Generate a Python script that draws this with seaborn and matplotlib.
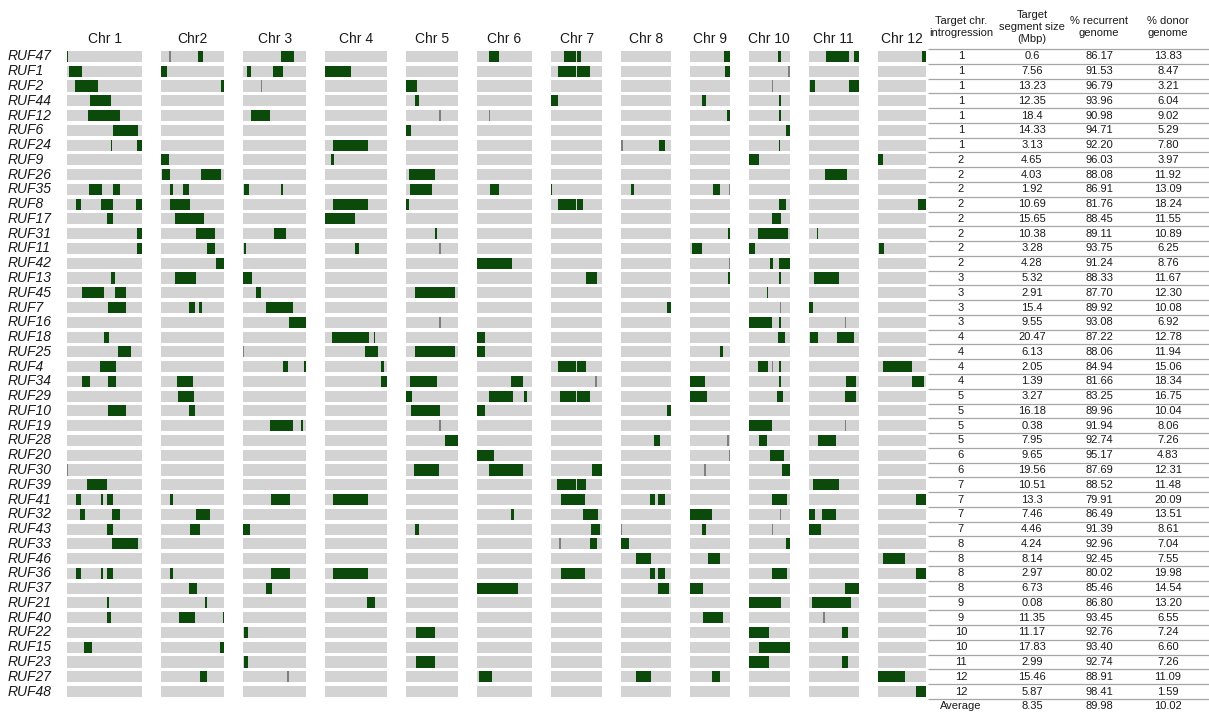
import matplotlib
matplotlib.use("Agg")
import matplotlib.pyplot as plt
import matplotlib.transforms as mtransforms
import pandas as pd
import seaborn as sns

# ---------------------------------------------------------------- data
SAMPLES = ["RUF47", "RUF1", "RUF2", "RUF44", "RUF12", "RUF6", "RUF24", "RUF9",
           "RUF26", "RUF35", "RUF8", "RUF17", "RUF31", "RUF11", "RUF42", "RUF13",
           "RUF45", "RUF7", "RUF16", "RUF18", "RUF25", "RUF4", "RUF34", "RUF29",
           "RUF10", "RUF19", "RUF28", "RUF20", "RUF30", "RUF39", "RUF41", "RUF32",
           "RUF43", "RUF33", "RUF46", "RUF36", "RUF37", "RUF21", "RUF40", "RUF22",
           "RUF15", "RUF23", "RUF27", "RUF48"]

CHR_NAMES = ["Chr 1", "Chr2", "Chr 3", "Chr 4", "Chr 5", "Chr 6", "Chr 7",
             "Chr 8", "Chr 9", "Chr 10", "Chr 11", "Chr 12"]
CHR_LEN = [43.27, 35.94, 36.41, 35.50, 29.96, 31.25, 29.70, 28.44, 23.01,
           23.21, 29.02, 27.53]  # Mbp

# donor segments per chromosome: (line, start Mbp, end Mbp, kind)
# kind "d" = donor introgression, "m" = small unresolved marker
CHR1 = [("RUF47", 0.0, 0.6, "d"), ("RUF1", 1.0, 8.56, "d"), ("RUF2", 4.8, 18.0, "d"),
        ("RUF44", 13.0, 25.4, "d"), ("RUF12", 12.0, 30.4, "d"), ("RUF6", 26.3, 40.6, "d"),
        ("RUF24", 25.0, 25.8, "d"), ("RUF24", 40.1, 43.27, "d"),
        ("RUF35", 12.4, 20.0, "d"), ("RUF35", 26.3, 30.7, "d"),
        ("RUF8", 5.3, 7.8, "d"), ("RUF8", 19.6, 26.3, "d"), ("RUF8", 39.8, 43.27, "d"),
        ("RUF17", 22.7, 26.3, "d"), ("RUF31", 40.4, 43.27, "d"), ("RUF11", 40.4, 43.27, "d"),
        ("RUF13", 25.5, 27.8, "d"), ("RUF45", 8.8, 21.0, "d"), ("RUF45", 27.4, 33.7, "d"),
        ("RUF7", 23.4, 33.7, "d"), ("RUF18", 21.5, 24.2, "d"), ("RUF25", 29.1, 36.6, "d"),
        ("RUF4", 19.0, 28.2, "d"), ("RUF34", 8.4, 13.1, "d"), ("RUF34", 23.8, 28.4, "d"),
        ("RUF10", 23.4, 33.9, "d"), ("RUF30", 0.0, 0.4, "m"), ("RUF39", 11.4, 23.2, "d"),
        ("RUF41", 5.3, 7.8, "d"), ("RUF41", 19.6, 20.8, "d"), ("RUF41", 23.0, 26.3, "d"),
        ("RUF32", 7.6, 10.1, "d"), ("RUF32", 25.7, 30.5, "d"), ("RUF43", 22.7, 26.3, "d"),
        ("RUF33", 26.1, 40.8, "d"),
        ("RUF36", 5.3, 7.8, "d"), ("RUF36", 19.6, 20.8, "d"), ("RUF36", 23.0, 26.3, "d"),
        ("RUF21", 22.9, 24.0, "d"), ("RUF40", 22.7, 25.1, "d"), ("RUF15", 9.9, 14.1, "d")]

CHR2 = [("RUF47", 4.6, 5.3, "m"), ("RUF47", 21.0, 24.0, "d"), ("RUF1", 0.0, 3.3, "d"),
        ("RUF2", 34.0, 35.94, "d"), ("RUF9", 0.0, 4.4, "d"),
        ("RUF26", 0.6, 5.0, "d"), ("RUF26", 22.5, 34.0, "d"),
        ("RUF35", 4.7, 6.6, "d"), ("RUF35", 12.3, 15.8, "d"), ("RUF8", 5.2, 16.2, "d"),
        ("RUF17", 7.9, 24.6, "d"), ("RUF31", 20.0, 30.8, "d"), ("RUF11", 26.3, 31.0, "d"),
        ("RUF42", 31.66, 35.94, "d"), ("RUF13", 7.9, 19.8, "d"),
        ("RUF7", 16.0, 19.6, "d"), ("RUF7", 21.9, 23.6, "d"),
        ("RUF34", 8.8, 18.3, "d"), ("RUF29", 9.6, 18.7, "d"), ("RUF10", 15.8, 19.6, "d"),
        ("RUF41", 5.0, 6.5, "d"), ("RUF32", 19.8, 27.9, "d"), ("RUF43", 16.2, 22.1, "d"),
        ("RUF36", 5.0, 6.5, "d"), ("RUF37", 15.8, 20.2, "d"), ("RUF21", 24.8, 26.2, "d"),
        ("RUF40", 10.4, 19.2, "d"), ("RUF40", 35.3, 35.94, "d"),
        ("RUF15", 33.8, 35.94, "d"), ("RUF27", 22.3, 26.3, "d")]

CHR3 = [("RUF47", 22.0, 29.3, "d"), ("RUF1", 2.3, 4.8, "d"), ("RUF1", 17.2, 23.2, "d"),
        ("RUF2", 10.2, 10.8, "m"), ("RUF12", 4.8, 15.5, "d"),
        ("RUF35", 0.8, 3.6, "d"), ("RUF35", 21.8, 22.8, "d"), ("RUF31", 18.0, 24.7, "d"),
        ("RUF11", 0.8, 1.8, "d"), ("RUF13", 0.0, 5.2, "d"), ("RUF45", 7.5, 10.5, "d"),
        ("RUF7", 13.2, 28.9, "d"), ("RUF16", 26.2, 36.41, "d"), ("RUF25", 0.0, 0.5, "m"),
        ("RUF4", 22.8, 25.9, "d"), ("RUF4", 34.8, 36.2, "d"),
        ("RUF19", 15.3, 28.7, "d"), ("RUF19", 33.4, 34.6, "d"), ("RUF41", 16.3, 27.0, "d"),
        ("RUF43", 0.0, 4.0, "d"), ("RUF36", 16.3, 26.8, "d"), ("RUF37", 13.4, 16.9, "d"),
        ("RUF22", 0.6, 2.9, "d"), ("RUF23", 0.6, 2.9, "d"), ("RUF27", 25.4, 26.3, "m")]

CHR4 = [("RUF1", 0.0, 14.6, "d"), ("RUF24", 4.5, 24.4, "d"), ("RUF9", 3.3, 5.1, "d"),
        ("RUF8", 4.5, 24.4, "d"), ("RUF17", 0.0, 17.2, "d"), ("RUF11", 17.3, 19.1, "d"),
        ("RUF18", 3.7, 24.8, "d"), ("RUF18", 27.9, 28.8, "d"), ("RUF25", 22.8, 30.2, "d"),
        ("RUF4", 32.0, 33.9, "d"), ("RUF34", 32.2, 35.5, "d"), ("RUF41", 4.5, 24.4, "d"),
        ("RUF36", 4.5, 24.4, "d"), ("RUF21", 24.2, 28.7, "d")]

CHR5 = [("RUF2", 0.0, 6.0, "d"), ("RUF44", 4.8, 7.2, "d"), ("RUF12", 19.1, 19.8, "m"),
        ("RUF6", 0.0, 2.7, "d"), ("RUF26", 1.9, 16.6, "d"), ("RUF35", 2.1, 14.9, "d"),
        ("RUF8", 0.0, 1.4, "d"), ("RUF31", 16.4, 17.5, "d"), ("RUF11", 19.1, 19.8, "m"),
        ("RUF45", 4.8, 28.2, "d"), ("RUF16", 19.1, 19.8, "m"), ("RUF25", 4.8, 28.2, "d"),
        ("RUF34", 2.1, 17.8, "d"), ("RUF29", 0.0, 3.3, "d"), ("RUF10", 2.9, 19.5, "d"),
        ("RUF19", 19.1, 19.9, "m"), ("RUF28", 22.2, 29.96, "d"), ("RUF30", 4.4, 18.8, "d"),
        ("RUF43", 4.8, 7.2, "d"), ("RUF22", 5.8, 16.6, "d"), ("RUF23", 5.8, 16.6, "d")]

CHR6 = [("RUF47", 6.6, 12.3, "d"), ("RUF12", 6.6, 7.3, "m"), ("RUF35", 7.4, 12.3, "d"),
        ("RUF42", 0.0, 19.9, "d"), ("RUF18", 0.0, 4.2, "d"), ("RUF25", 0.0, 4.2, "d"),
        ("RUF34", 19.5, 26.1, "d"), ("RUF29", 6.6, 20.6, "d"), ("RUF29", 26.9, 28.3, "d"),
        ("RUF10", 0.0, 4.4, "d"), ("RUF20", 0.0, 9.65, "d"), ("RUF30", 6.6, 26.2, "d"),
        ("RUF32", 19.3, 21.0, "d"), ("RUF37", 0.0, 23.3, "d"), ("RUF27", 0.8, 8.5, "d")]

CHR7 = [("RUF47", 7.6, 14.6, "d"), ("RUF47", 15.0, 17.3, "d"),
        ("RUF1", 4.3, 14.6, "d"), ("RUF1", 15.0, 22.7, "d"), ("RUF44", 0.0, 4.1, "d"),
        ("RUF35", 0.0, 0.6, "d"), ("RUF8", 3.9, 14.6, "d"), ("RUF8", 15.0, 18.6, "d"),
        ("RUF13", 20.2, 26.6, "d"), ("RUF4", 4.1, 14.6, "d"), ("RUF4", 15.0, 20.0, "d"),
        ("RUF34", 25.6, 26.6, "m"), ("RUF29", 5.2, 14.6, "d"), ("RUF29", 15.0, 22.7, "d"),
        ("RUF30", 23.9, 29.70, "d"), ("RUF39", 3.3, 14.6, "d"), ("RUF39", 15.0, 20.2, "d"),
        ("RUF41", 5.8, 19.4, "d"), ("RUF32", 18.6, 27.0, "d"), ("RUF43", 22.9, 28.3, "d"),
        ("RUF33", 4.7, 6.0, "m"), ("RUF33", 22.5, 26.4, "d"), ("RUF36", 5.8, 19.4, "d")]

CHR8 = [("RUF24", 0.0, 0.6, "m"), ("RUF24", 21.6, 24.9, "d"), ("RUF35", 5.5, 7.2, "d"),
        ("RUF7", 26.0, 28.44, "d"), ("RUF10", 26.0, 28.44, "d"), ("RUF28", 18.8, 22.4, "d"),
        ("RUF41", 16.5, 19.5, "d"), ("RUF41", 21.1, 24.7, "d"), ("RUF43", 0.0, 0.5, "m"),
        ("RUF33", 0.0, 4.24, "d"), ("RUF46", 8.5, 16.7, "d"),
        ("RUF36", 16.5, 19.5, "d"), ("RUF36", 21.1, 24.7, "d"),
        ("RUF37", 20.7, 27.5, "d"), ("RUF27", 8.5, 16.7, "d")]

CHR9 = [("RUF47", 19.5, 23.01, "d"), ("RUF1", 19.9, 23.01, "d"), ("RUF44", 6.6, 9.2, "d"),
        ("RUF12", 21.4, 23.01, "d"), ("RUF35", 13.3, 17.0, "d"), ("RUF35", 22.3, 23.01, "m"),
        ("RUF31", 21.6, 23.01, "d"), ("RUF11", 1.4, 6.6, "d"), ("RUF42", 22.4, 23.01, "m"),
        ("RUF13", 21.6, 23.01, "d"), ("RUF25", 17.0, 18.7, "d"), ("RUF34", 0.0, 8.6, "d"),
        ("RUF29", 0.0, 9.7, "d"), ("RUF28", 21.2, 22.2, "m"), ("RUF20", 22.3, 23.01, "m"),
        ("RUF30", 8.2, 9.4, "m"), ("RUF32", 0.0, 12.7, "d"), ("RUF43", 6.6, 9.2, "d"),
        ("RUF46", 10.1, 17.2, "d"), ("RUF37", 0.0, 7.4, "d"), ("RUF40", 7.4, 18.75, "d"),
        ("RUF27", 12.5, 17.2, "d")]

CHR10 = [("RUF47", 16.8, 18.2, "d"), ("RUF1", 22.4, 23.21, "m"), ("RUF2", 13.2, 13.6, "m"),
         ("RUF44", 17.0, 18.4, "d"), ("RUF12", 17.0, 18.4, "d"), ("RUF6", 21.3, 23.21, "d"),
         ("RUF24", 16.9, 17.7, "d"), ("RUF9", 0.0, 5.6, "d"), ("RUF8", 17.0, 21.3, "d"),
         ("RUF17", 13.2, 18.4, "d"), ("RUF31", 5.2, 22.2, "d"), ("RUF11", 0.0, 3.5, "d"),
         ("RUF42", 11.8, 13.6, "d"), ("RUF42", 17.2, 23.21, "d"), ("RUF13", 16.9, 18.3, "d"),
         ("RUF45", 10.1, 11.0, "d"), ("RUF7", 17.6, 18.3, "m"),
         ("RUF16", 0.0, 13.2, "d"), ("RUF16", 17.0, 18.3, "d"), ("RUF18", 16.4, 20.7, "d"),
         ("RUF4", 5.2, 11.0, "d"), ("RUF4", 13.2, 13.6, "m"), ("RUF4", 17.0, 18.2, "d"),
         ("RUF34", 16.9, 18.3, "d"), ("RUF29", 16.2, 19.5, "d"), ("RUF19", 0.0, 13.2, "d"),
         ("RUF28", 5.8, 10.4, "d"), ("RUF20", 12.0, 19.9, "d"), ("RUF30", 19.0, 23.21, "d"),
         ("RUF41", 13.0, 21.5, "d"), ("RUF32", 17.6, 18.3, "m"), ("RUF43", 13.2, 13.7, "m"),
         ("RUF33", 21.3, 23.21, "d"), ("RUF36", 13.0, 21.5, "d"), ("RUF21", 0.0, 18.6, "d"),
         ("RUF22", 0.0, 11.17, "d"), ("RUF15", 5.4, 23.21, "d"), ("RUF23", 0.0, 11.2, "d")]

CHR11 = [("RUF47", 9.9, 23.3, "d"), ("RUF47", 26.1, 29.02, "d"),
         ("RUF2", 1.0, 3.8, "d"), ("RUF2", 23.3, 29.02, "d"), ("RUF26", 9.2, 22.3, "d"),
         ("RUF31", 4.8, 5.4, "d"), ("RUF13", 3.2, 17.7, "d"), ("RUF7", 0.0, 2.5, "d"),
         ("RUF16", 21.0, 21.8, "m"), ("RUF18", 0.8, 5.3, "d"), ("RUF18", 16.4, 26.1, "d"),
         ("RUF34", 21.4, 27.1, "d"), ("RUF29", 21.0, 27.5, "d"), ("RUF19", 20.8, 21.8, "m"),
         ("RUF28", 5.3, 15.6, "d"), ("RUF39", 2.7, 17.7, "d"),
         ("RUF32", 0.4, 4.0, "d"), ("RUF32", 7.6, 15.8, "d"), ("RUF43", 0.0, 7.3, "d"),
         ("RUF37", 20.8, 29.02, "d"), ("RUF21", 1.9, 24.4, "d"), ("RUF40", 8.4, 9.4, "m"),
         ("RUF22", 19.5, 22.5, "d"), ("RUF23", 19.5, 22.5, "d")]

CHR12 = [("RUF47", 25.4, 27.53, "d"), ("RUF9", 0.0, 2.7, "d"), ("RUF8", 23.1, 27.53, "d"),
         ("RUF11", 0.8, 3.4, "d"), ("RUF4", 2.7, 19.4, "d"), ("RUF34", 19.4, 26.2, "d"),
         ("RUF41", 21.8, 27.53, "d"), ("RUF46", 2.7, 15.7, "d"), ("RUF36", 21.8, 27.53, "d"),
         ("RUF27", 0.0, 15.46, "d"), ("RUF48", 21.66, 27.53, "d")]

SEGMENTS = [CHR1, CHR2, CHR3, CHR4, CHR5, CHR6, CHR7, CHR8, CHR9, CHR10, CHR11, CHR12]

# summary table
TARGET_CHR = [1, 1, 1, 1, 1, 1, 1, 2, 2, 2, 2, 2, 2, 2, 2, 3, 3, 3, 3, 4, 4, 4,
              4, 5, 5, 5, 5, 6, 6, 7, 7, 7, 7, 8, 8, 8, 8, 9, 9, 10, 10, 11, 12, 12]
SEGMENT_SIZE = [0.6, 7.56, 13.23, 12.35, 18.4, 14.33, 3.13, 4.65, 4.03, 1.92, 10.69,
                15.65, 10.38, 3.28, 4.28, 5.32, 2.91, 15.4, 9.55, 20.47, 6.13, 2.05,
                1.39, 3.27, 16.18, 0.38, 7.95, 9.65, 19.56, 10.51, 13.3, 7.46, 4.46,
                4.24, 8.14, 2.97, 6.73, 0.08, 11.35, 11.17, 17.83, 2.99, 15.46, 5.87]
PCT_RECURRENT = [86.17, 91.53, 96.79, 93.96, 90.98, 94.71, 92.20, 96.03, 88.08, 86.91,
                 81.76, 88.45, 89.11, 93.75, 91.24, 88.33, 87.70, 89.92, 93.08, 87.22,
                 88.06, 84.94, 81.66, 83.25, 89.96, 91.94, 92.74, 95.17, 87.69, 88.52,
                 79.91, 86.49, 91.39, 92.96, 92.45, 80.02, 85.46, 86.80, 93.45, 92.76,
                 93.40, 92.74, 88.91, 98.41]
PCT_DONOR = [13.83, 8.47, 3.21, 6.04, 9.02, 5.29, 7.80, 3.97, 11.92, 13.09, 18.24,
             11.55, 10.89, 6.25, 8.76, 11.67, 12.30, 10.08, 6.92, 12.78, 11.94, 15.06,
             18.34, 16.75, 10.04, 8.06, 7.26, 4.83, 12.31, 11.48, 20.09, 13.51, 8.61,
             7.04, 7.55, 19.98, 14.54, 13.20, 6.55, 7.24, 6.60, 7.26, 11.09, 1.59]
AVERAGE_ROW = ["Average", "8.35", "89.98", "10.02"]
TABLE_HEADERS = ["Target chr.\nintrogression", "Target\nsegment size\n(Mbp)",
                 "% recurrent\ngenome", "% donor\ngenome"]

# ---------------------------------------------------------------- style
sns.set_theme(style="white")
plt.rcParams["font.family"] = ["Liberation Sans", "DejaVu Sans"]

GREY = "#d3d3d3"
DONOR = "#0b4a0b"
MARK = "#808080"
TEXT = "#1a1a1a"
BAR_H = 0.75

W, H = 1209, 713
fig = plt.figure(figsize=(W / 100, H / 100), dpi=100)
top = 1 - 49.1 / H
bottom = 1 - 698.9 / H
gs = fig.add_gridspec(1, 12, width_ratios=CHR_LEN, left=67 / W, right=926 / W,
                      top=top, bottom=bottom, wspace=0.351)

n = len(SAMPLES)
row_of = {s: i for i, s in enumerate(SAMPLES)}
axes = []
for c, (name, length, segs) in enumerate(zip(CHR_NAMES, CHR_LEN, SEGMENTS)):
    ax = fig.add_subplot(gs[0, c])
    axes.append(ax)
    bg = pd.DataFrame({"line": SAMPLES, "length": [length] * n})
    sns.barplot(data=bg, x="length", y="line", order=SAMPLES, orient="h",
                color=GREY, saturation=1, width=BAR_H, errorbar=None,
                linewidth=0, ax=ax)
    for line, start, end, kind in segs:
        ax.barh(row_of[line], end - start, left=start, height=BAR_H,
                color=DONOR if kind == "d" else MARK, linewidth=0)
    ax.set_xlim(0, length)
    ax.set_ylim(n - 0.5, -0.5)
    ax.set_xlabel("")
    ax.set_ylabel("")
    ax.set_xticks([])
    ax.set_yticks([])
    sns.despine(ax=ax, left=True, bottom=True)
    ax.set_title(name, fontsize=10, pad=4.3, color=TEXT)

# line names down the left margin
lab_tr = mtransforms.blended_transform_factory(fig.transFigure, axes[0].transData)
for i, s in enumerate(SAMPLES):
    axes[0].text(8 / W, i, s, transform=lab_tr, ha="left", va="center",
                 fontsize=10, style="italic", color=TEXT)

# summary table on the right
tab = fig.add_axes([928 / W, bottom, 281 / W, top - bottom])
tab.set_xlim(0, 1)
tab.set_ylim(n - 0.5, -0.5)
tab.axis("off")
col_x = [0.117, 0.370, 0.609, 0.854]
for cx, head in zip(col_x, TABLE_HEADERS):
    tab.text(cx, -1.98, head, ha="center", va="center", fontsize=8,
             linespacing=1.25, color=TEXT)
tab.hlines([i - 0.5 for i in range(n + 1)], 0, 1, color="#a6a6a6", lw=0.9,
           clip_on=False)
for i in range(n):
    vals = [str(TARGET_CHR[i]), f"{SEGMENT_SIZE[i]:g}",
            f"{PCT_RECURRENT[i]:.2f}", f"{PCT_DONOR[i]:.2f}"]
    for cx, v in zip(col_x, vals):
        tab.text(cx, i, v, ha="center", va="center", fontsize=8, color=TEXT)
for cx, v in zip(col_x, AVERAGE_ROW):
    tab.text(cx, n, v, ha="center", va="center", fontsize=8, color=TEXT,
             clip_on=False)

fig.savefig("out.png", dpi=100, facecolor="white")
